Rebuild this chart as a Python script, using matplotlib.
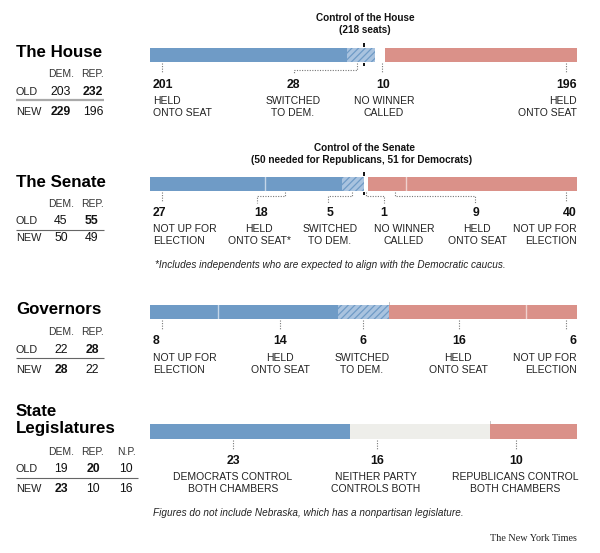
import matplotlib
matplotlib.use("Agg")
import matplotlib.pyplot as plt
from matplotlib.transforms import blended_transform_factory

plt.rcParams['font.family'] = ['Liberation Sans', 'DejaVu Sans']
plt.rcParams['hatch.linewidth'] = 0.9

# ---------------- data ----------------
house_values = [201, 28, 10, 196]
house_kinds = ['dem', 'switch', 'none', 'rep']
house_labels = ['HELD\nONTO SEAT', 'SWITCHED\nTO DEM.', 'NO WINNER\nCALLED', 'HELD\nONTO SEAT']
house_control = 218

senate_values = [27, 18, 5, 1, 9, 40]
senate_kinds = ['dem', 'dem', 'switch', 'none', 'rep', 'rep']
senate_labels = ['NOT UP FOR\nELECTION', 'HELD\nONTO SEAT*', 'SWITCHED\nTO DEM.',
                 'NO WINNER\nCALLED', 'HELD\nONTO SEAT', 'NOT UP FOR\nELECTION']
senate_control = 50

gov_values = [8, 14, 6, 16, 6]
gov_kinds = ['dem', 'dem', 'switch', 'rep', 'rep']
gov_labels = ['NOT UP FOR\nELECTION', 'HELD\nONTO SEAT', 'SWITCHED\nTO DEM.',
              'HELD\nONTO SEAT', 'NOT UP FOR\nELECTION']

leg_values = [23, 16, 10]
leg_kinds = ['dem', 'neither', 'rep']
leg_labels = ['DEMOCRATS CONTROL\nBOTH CHAMBERS', 'NEITHER PARTY\nCONTROLS BOTH',
              'REPUBLICANS CONTROL\nBOTH CHAMBERS']

two_cols = ['DEM.', 'REP.']
three_cols = ['DEM.', 'REP.', 'N.P.']
house_old, house_old_bold = [203, 232], [False, True]
house_new, house_new_bold = [229, 196], [True, False]
senate_old, senate_old_bold = [45, 55], [False, True]
senate_new, senate_new_bold = [50, 49], [False, False]
gov_old, gov_old_bold = [22, 28], [False, True]
gov_new, gov_new_bold = [28, 22], [True, False]
leg_old, leg_old_bold = [19, 20, 10], [False, True, False]
leg_new, leg_new_bold = [23, 10, 16], [True, False, False]

# ---------------- style ----------------
BLUE = '#6f9bc6'
RED = '#da9189'
NEITHER = '#eeeeea'
HATCH_FACE = '#a9c3df'
TXT = '#111111'
LEAD = '#777777'

W, H = 600, 553
fig = plt.figure(figsize=(W / 100, H / 100), dpi=100)
bg = fig.add_axes([0, 0, 1, 1])
bg.set_xlim(0, W)
bg.set_ylim(H, 0)
bg.axis('off')

BAR_X0, BAR_W = 150, 427


def bar_row(values, kinds, y0, y1, control=None, majority_tick=None):
    total = sum(values)
    ax = fig.add_axes([BAR_X0 / W, 1 - y1 / H, BAR_W / W, (y1 - y0) / H])
    ax.set_xlim(0, total)
    ax.set_ylim(0, 1)
    ax.axis('off')
    left = 0
    prev = None
    for v, k in zip(values, kinds):
        if k == 'dem':
            ax.barh(0.5, v, left=left, height=1, color=BLUE, lw=0)
        elif k == 'rep':
            ax.barh(0.5, v, left=left, height=1, color=RED, lw=0)
        elif k == 'neither':
            ax.barh(0.5, v, left=left, height=1, color=NEITHER, lw=0)
        elif k == 'switch':
            ax.barh(0.5, v, left=left, height=1, facecolor=HATCH_FACE,
                    edgecolor=BLUE, hatch='/////', lw=0)
        if prev is not None and prev == k and k in ('dem', 'rep'):
            ax.axvline(left, color='white', lw=1.0, alpha=0.6)
        prev = k
        left += v
    tr = blended_transform_factory(ax.transData, bg.transData)
    if control is not None:
        bg.plot([control, control], [y0 - 5, y0 - 1], color='black', lw=1.3,
                transform=tr, clip_on=False, solid_capstyle='butt')
        bg.plot([control, control], [y1 + 1, y1 + 4], color='black', lw=1.3,
                transform=tr, clip_on=False, solid_capstyle='butt')
    if majority_tick is not None:
        bg.plot([majority_tick, majority_tick], [y0 - 3, y0], color='#bbbbbb', lw=0.6,
                transform=tr, clip_on=False)
    return ax


def labels(values, texts, layout, num_base, line_bases):
    for v, t, (nx, lx, ha, leader) in zip(values, texts, layout):
        bg.text(nx, num_base, str(v), ha=ha, va='baseline', fontsize=8.8,
                fontweight='bold', color=TXT)
        for line, yb in zip(t.split('\n'), line_bases):
            bg.text(lx, yb, line, ha=ha, va='baseline', fontsize=7.5, color='#222222')
        xs = [p[0] for p in leader]
        ys = [p[1] for p in leader]
        bg.plot(xs, ys, color=LEAD, lw=0.8, linestyle=(0, (1, 1.3)))


def table(title_lines, cols, col_x, old, old_b, new, new_b, header_base, old_base,
          line_y, new_base, line_x1, line_lw=0.8, line_col='#666666'):
    for s, yb in title_lines:
        bg.text(16, yb, s, ha='left', va='baseline', fontsize=12.2, fontweight='bold',
                color='black')
    for c, x in zip(cols, col_x):
        bg.text(x, header_base, c, ha='center', va='baseline', fontsize=7.5, color='#333333')
    bg.text(16, old_base, 'OLD', ha='left', va='baseline', fontsize=7.8, color='#222222')
    bg.text(16, new_base, 'NEW', ha='left', va='baseline', fontsize=7.8, color='#222222')
    for v, b, x in zip(old, old_b, col_x):
        bg.text(x, old_base, str(v), ha='center', va='baseline', fontsize=8.8,
                fontweight='bold' if b else 'normal', color=TXT)
    for v, b, x in zip(new, new_b, col_x):
        bg.text(x, new_base, str(v), ha='center', va='baseline', fontsize=8.8,
                fontweight='bold' if b else 'normal', color=TXT)
    bg.plot([16, line_x1], [line_y, line_y], color=line_col, lw=line_lw,
            solid_capstyle='butt')


# ---------------- House ----------------
bar_row(house_values, house_kinds, 48, 62, control=house_control)
bg.text(365, 21, 'Control of the House', ha='center', va='baseline', fontsize=7.2,
        fontweight='bold', color=TXT)
bg.text(365, 33, '(218 seats)', ha='center', va='baseline', fontsize=7.2,
        fontweight='bold', color=TXT)
labels(house_values, house_labels, [
    (153, 153, 'left', [(162, 63), (162, 72)]),
    (293, 293, 'center', [(357, 63), (357, 70), (294, 70), (294, 73)]),
    (383, 384, 'center', [(382, 63), (382, 73)]),
    (577, 577, 'right', [(566, 63), (566, 73)]),
], 88, [104, 116])
table([('The House', 57)], two_cols, [61, 93], house_old, house_old_bold,
      house_new, house_new_bold, 77, 95, 100, 115, 104, line_lw=1.6, line_col='#aaaaaa')

# ---------------- Senate ----------------
bar_row(senate_values, senate_kinds, 177, 191, control=senate_control)
bg.text(364, 151, 'Control of the Senate', ha='center', va='baseline', fontsize=7.2,
        fontweight='bold', color=TXT)
bg.text(362, 163, '(50 needed for Republicans, 51 for Democrats)', ha='center',
        va='baseline', fontsize=7.2, fontweight='bold', color=TXT)
labels(senate_values, senate_labels, [
    (153, 153, 'left', [(162, 192), (162, 202)]),
    (261, 259, 'center', [(285, 192), (285, 196), (257, 196), (257, 203)]),
    (330, 330, 'center', [(352, 192), (352, 196), (328, 196), (328, 203)]),
    (384, 404, 'center', [(366, 192), (366, 196), (384, 196), (384, 203)]),
    (476, 477, 'center', [(395, 192), (395, 196), (475, 196), (475, 203)]),
    (577, 577, 'right', [(566, 192), (566, 202)]),
], 216, [232, 244])
bg.text(155, 268, '*Includes independents who are expected to align with the Democratic caucus.',
        ha='left', va='baseline', fontsize=7.2, style='italic', color='#222222')
table([('The Senate', 187)], two_cols, [61, 92], senate_old, senate_old_bold,
      senate_new, senate_new_bold, 207, 224, 229.5, 241, 104)

# ---------------- Governors ----------------
bar_row(gov_values, gov_kinds, 305, 319, majority_tick=sum(gov_values[:3]))
labels(gov_values, gov_labels, [
    (153, 153, 'left', [(162, 320), (162, 330)]),
    (280, 280, 'center', [(280, 320), (280, 330)]),
    (363, 362, 'center', [(363, 320), (363, 330)]),
    (459, 458, 'center', [(459, 320), (459, 330)]),
    (577, 577, 'right', [(566, 320), (566, 330)]),
], 344, [361, 373])
table([('Governors', 314)], two_cols, [61, 92], gov_old, gov_old_bold,
      gov_new, gov_new_bold, 335, 353, 358, 373, 104)

# ---------------- State legislatures ----------------
bar_row(leg_values, leg_kinds, 424, 439, majority_tick=sum(leg_values[:2]))
labels(leg_values, leg_labels, [
    (233, 233, 'center', [(233, 440), (233, 450)]),
    (377, 376, 'center', [(377, 440), (377, 450)]),
    (516, 515, 'center', [(516, 440), (516, 450)]),
], 464, [480, 492])
bg.text(153, 516, 'Figures do not include Nebraska, which has a nonpartisan legislature.',
        ha='left', va='baseline', fontsize=7.2, style='italic', color='#222222')
table([('State', 416), ('Legislatures', 433)], three_cols, [61, 93, 126], leg_old,
      leg_old_bold, leg_new, leg_new_bold, 455, 472, 478, 492, 138)

bg.text(577, 541, 'The New York Times', ha='right', va='baseline', fontsize=7.3,
        family=['Liberation Serif', 'DejaVu Serif'], color='#222222')

fig.savefig('out.png', dpi=100)
